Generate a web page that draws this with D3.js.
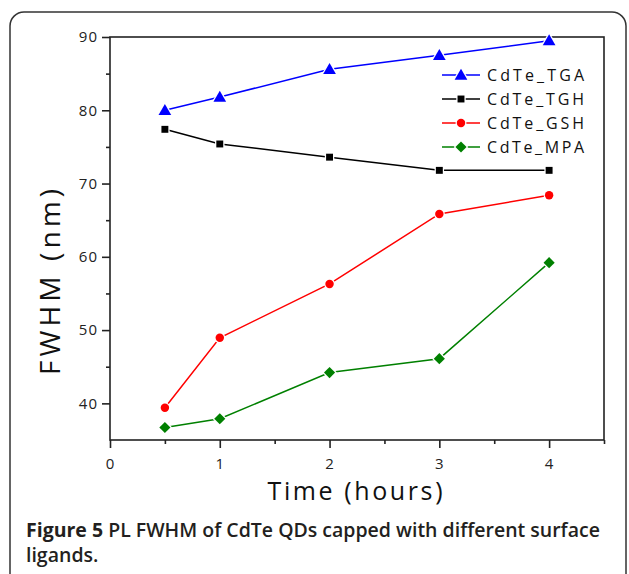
<!DOCTYPE html>
<html><head><meta charset="utf-8">
<script src="https://cdn.jsdelivr.net/npm/d3@7"></script>
<style>
html,body{margin:0;padding:0;background:#fff;}
svg{display:block;}
</style></head>
<body>
<script>
const times = [0.5, 1, 2, 3, 4];
const seriesNames = ["CdTe_TGA", "CdTe_TGH", "CdTe_GSH", "CdTe_MPA"];
const tgaValues = [80.0, 81.8, 85.6, 87.5, 89.5];
const tghValues = [77.4, 75.4, 73.6, 71.8, 71.8];
const gshValues = [39.4, 48.95, 56.3, 65.85, 68.4];
const mpaValues = [36.7, 37.9, 44.2, 46.1, 59.2];
const seriesColors = ["#0000ff", "#000000", "#ff0000", "#008000"];
const seriesSymbols = ["triangle", "square", "circle", "diamond"];
const xTicks = [0, 1, 2, 3, 4];
const yTicks = [40, 50, 60, 70, 80, 90];
const xLabel = "Time (hours)";
const yLabel = "FWHM (nm)";
const captionBold = "Figure 5";
const captionLine1 = " PL FWHM of CdTe QDs capped with different surface";
const captionLine2 = "ligands.";

const W = 629, H = 574;
const svg = d3.select("body").append("svg").attr("width", W).attr("height", H);

// outer rounded border
svg.append("rect").attr("x", 10).attr("y", 12).attr("width", 616).attr("height", 600)
  .attr("rx", 14).attr("fill", "none").attr("stroke", "#333").attr("stroke-width", 1.5);

const L = 110, T = 37, R = 604, B = 440;
const x = d3.scaleLinear().domain([0, 4.5]).range([L, R]);
const y = d3.scaleLinear().domain([35, 90]).range([B, T]);

const font = "'Open Sans', sans-serif";
const axisColor = "#222";

// frame
svg.append("rect").attr("x", L).attr("y", T).attr("width", R - L).attr("height", B - T)
  .attr("fill", "none").attr("stroke", axisColor).attr("stroke-width", 1.6);

// axes
const yAxis = d3.axisLeft(y).tickValues(yTicks).tickSize(8).tickPadding(4).tickFormat(d3.format("d"));
const yMinor = d3.axisLeft(y).tickValues(d3.range(45, 90, 10)).tickSize(4).tickFormat("");
const xAxis = d3.axisBottom(x).tickValues(xTicks).tickSize(8).tickPadding(10).tickFormat(d3.format("d"));
const xMinor = d3.axisBottom(x).tickValues([0.5, 1.5, 2.5, 3.5, 4.5]).tickSize(4).tickFormat("");

function styleAxis(g) {
  g.select(".domain").remove();
  g.selectAll("line").attr("stroke", axisColor).attr("stroke-width", 1.6);
  g.selectAll("text").attr("font-family", font).attr("font-size", 15).attr("fill", "#222")
    .attr("letter-spacing", 1);
}
svg.append("g").attr("transform", `translate(${L},0)`).call(yAxis).call(styleAxis);
svg.append("g").attr("transform", `translate(${L},0)`).call(yMinor).call(styleAxis);
svg.append("g").attr("transform", `translate(0,${B})`).call(xAxis).call(styleAxis);
svg.append("g").attr("transform", `translate(0,${B})`).call(xMinor).call(styleAxis);

// axis labels
svg.append("text").attr("x", 355).attr("y", 500).attr("text-anchor", "middle")
  .attr("font-family", font).attr("font-size", 25).attr("fill", "#111")
  .attr("textLength", 175).attr("lengthAdjust", "spacing").text(xLabel);
svg.append("text").attr("transform", "translate(60,282) rotate(-90)").attr("text-anchor", "middle")
  .attr("font-family", font).attr("font-size", 28).attr("fill", "#111")
  .attr("textLength", 186).attr("lengthAdjust", "spacing").text(yLabel);

// data
const allValues = [tgaValues, tghValues, gshValues, mpaValues];
const symbolMap = {
  triangle: d3.symbol().type(d3.symbolTriangle).size(70),
  square: d3.symbol().type(d3.symbolSquare).size(48),
  circle: d3.symbol().type(d3.symbolCircle).size(56),
  diamond: d3.symbol().type(d3.symbolSquare).size(62)
};
function markerTransform(sym, px, py) {
  if (sym === "triangle") return `translate(${px},${py + 1})`;
  if (sym === "diamond") return `translate(${px},${py}) rotate(45)`;
  return `translate(${px},${py})`;
}
const line = d3.line().x(d => x(d[0])).y(d => y(d[1]));

allValues.forEach((vals, i) => {
  const pts = times.map((t, j) => [t, vals[j]]);
  svg.append("path").datum(pts).attr("d", line).attr("fill", "none")
    .attr("stroke", seriesColors[i]).attr("stroke-width", 1.5);
});
allValues.forEach((vals, i) => {
  const pts = times.map((t, j) => [t, vals[j]]);
  const s = seriesSymbols[i];
  svg.append("g").selectAll("path").data(pts).join("path")
    .attr("transform", d => markerTransform(s, x(d[0]), y(d[1])))
    .attr("d", symbolMap[s]).attr("fill", seriesColors[i])
    .attr("stroke", "#fff").attr("stroke-width", 2.5).attr("paint-order", "stroke");
});

// legend
const lg = svg.append("g");
seriesNames.forEach((name, i) => {
  const yy = 75 + i * 24;
  const s = seriesSymbols[i];
  lg.append("line").attr("x1", 442).attr("x2", 480).attr("y1", yy).attr("y2", yy)
    .attr("stroke", seriesColors[i]).attr("stroke-width", 1.5);
  lg.append("path").attr("transform", markerTransform(s, 461, yy))
    .attr("d", symbolMap[s]).attr("fill", seriesColors[i])
    .attr("stroke", "#fff").attr("stroke-width", 2.5).attr("paint-order", "stroke");
  lg.append("text").attr("x", 487).attr("y", yy).attr("dy", "0.36em")
    .attr("font-family", font).attr("font-size", 16).attr("fill", "#111")
    .attr("textLength", 97).attr("lengthAdjust", "spacing").text(name);
});

// caption
const cap = svg.append("text").attr("x", 26).attr("y", 537)
  .attr("font-family", font).attr("font-weight", 700).attr("font-size", 17).attr("fill", "#231f20");
cap.append("tspan").text(captionBold);
cap.append("tspan").attr("font-weight", 600).text(captionLine1);
const cap2 = svg.append("text").attr("x", 26).attr("y", 562)
  .attr("font-family", font).attr("font-weight", 600).attr("font-size", 17).attr("fill", "#231f20")
  .text(captionLine2);
// fit caption width to the reference line width
const w = cap.node().getComputedTextLength();
const fs = 17 * 574 / w;
cap.attr("font-size", fs);
cap2.attr("font-size", fs);
</script>
</body></html>
